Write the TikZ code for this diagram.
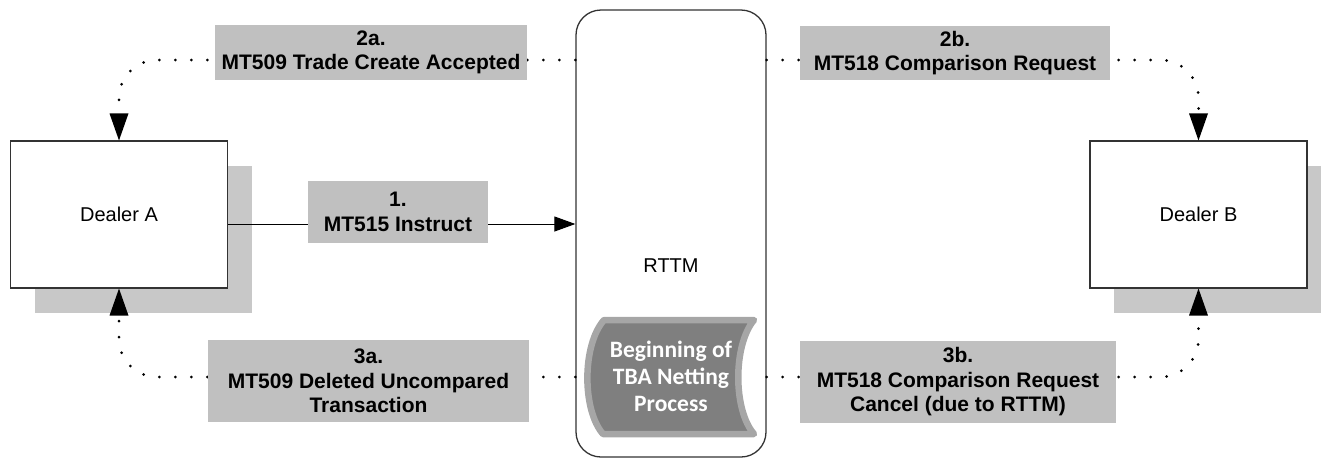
\documentclass[tikz,border=0pt]{standalone}
\usepackage{fontspec}
\setmainfont{Liberation Sans}
\newfontfamily\calibri{Carlito}
\usetikzlibrary{arrows.meta}
\definecolor{lbl}{HTML}{C0C0C0}
\definecolor{shd}{HTML}{C8C8C8}
\definecolor{netfill}{HTML}{7F7F7F}
\definecolor{netborder}{HTML}{A6A6A6}
\definecolor{edge}{HTML}{333333}
\begin{document}
\begin{tikzpicture}[x=1pt,y=-1pt,
  dealer/.style={draw=edge,line width=1.1pt,fill=white,minimum width=217pt,minimum height=147pt,inner sep=0pt,font=\fontsize{20}{24}\selectfont},
  shadowbox/.style={fill=shd,draw=none,minimum width=217pt,minimum height=147pt,inner sep=0pt},
  msg/.style={fill=lbl,inner sep=0pt,align=center,font=\bfseries\fontsize{21}{24.5}\selectfont},
  dotline/.style={line width=3pt,line cap=round,dash pattern=on 0pt off 16pt,rounded corners=38pt},
  vtip/.style={-{Triangle[length=27pt,width=19pt,line width=0pt]}},
  htip/.style={-{Triangle[length=21pt,width=15pt]}}]
\useasboundingbox (0,0) rectangle (1321,459);
\coordinate (top) at (0,60);
\coordinate (mid) at (0,224);
\coordinate (bot) at (0,377);
% shadows
\node[shadowbox] (shA) at (143.5,239.5) {};
\node[shadowbox] (shB) at (1222.5,239.5) {};
% dealers
\node[dealer] (dA) at (119,214.5) {Dealer A};
\node[dealer] (dB) at (1198.5,214.5) {Dealer B};
% RTTM
\node[draw=edge,line width=1.3pt,rounded corners=25pt,minimum width=190pt,minimum height=447pt,inner sep=0pt] (rttm) at (671,233.5) {};
\node[font=\fontsize{20}{24}\selectfont] (rttmtxt) at (671,266) {RTTM};
% netting shape
\draw[draw=netborder,fill=netfill,line width=6.5pt,line join=round]
  (604,320) -- (754,320) .. controls (733,345) and (733,410) .. (754,434)
  -- (603,434) .. controls (582,410) and (582,345) .. (604,320) -- cycle;
\node[font=\calibri\bfseries\fontsize{23.5}{27}\selectfont,text=white,align=center] (net) at (671,376) {Beginning of\\TBA Netting\\Process};
% connectors
\draw[dotline,vtip] (rttm.west |- top) -| (dA.north);
\draw[dotline,vtip] (rttm.west |- bot) -| (dA.south);
\draw[dotline,vtip] (rttm.east |- top) -| (dB.north);
\draw[dotline,vtip] (rttm.east |- bot) -| (dB.south);
\draw[line width=1pt,htip] (dA.east |- mid) -- (rttm.west |- mid);
% labels
\node[msg,minimum width=312pt,minimum height=55pt] (l2a) at (371,52.5) {2a.\\MT509 Trade Create Accepted};
\node[msg,minimum width=310pt,minimum height=54pt] (l2b) at (955,53) {2b.\\MT518 Comparison Request};
\node[msg,minimum width=180pt,minimum height=62pt] (l1) at (398,212) {1.\\MT515 Instruct};
\node[msg,minimum width=321pt,minimum height=82pt] (l3a) at (368.5,381) {3a.\\MT509 Deleted Uncompared\\Transaction};
\node[msg,minimum width=316pt,minimum height=82pt] (l3b) at (958,382) {3b.\\MT518 Comparison Request\\Cancel (due to RTTM)};
\end{tikzpicture}
\end{document}
